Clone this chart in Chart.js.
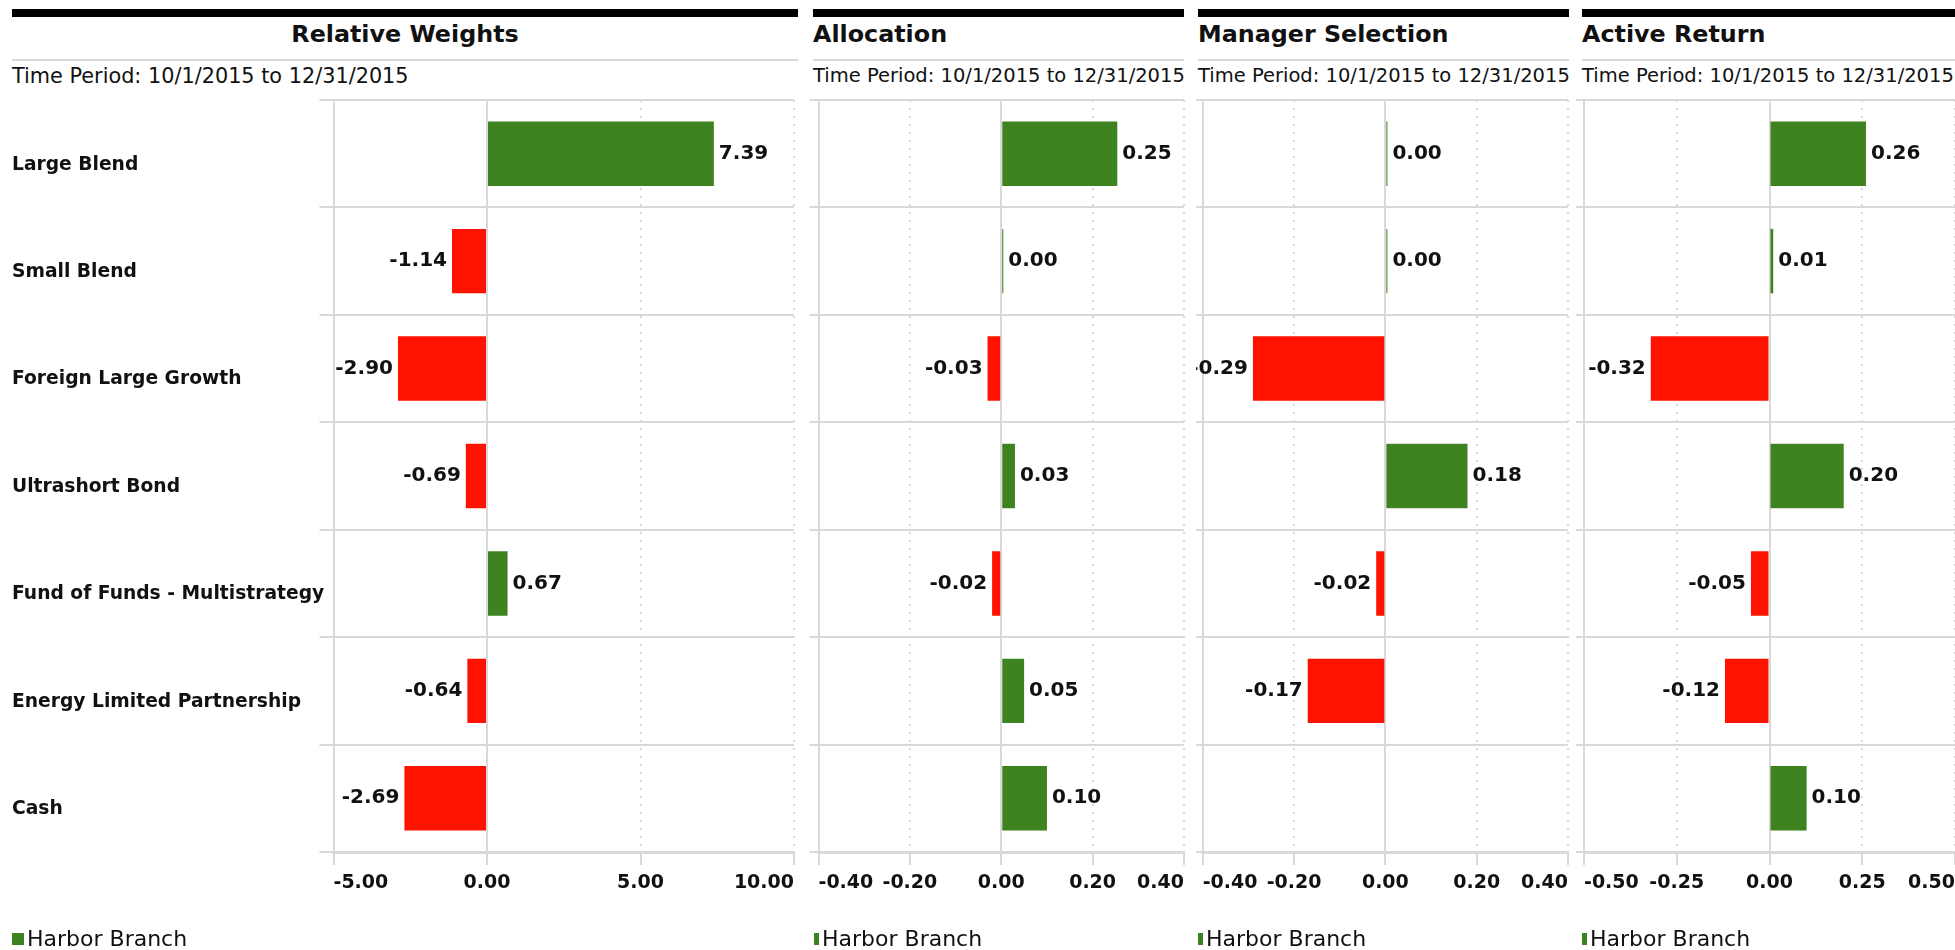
<!DOCTYPE html>
<html>
<head>
<meta charset="utf-8">
<title>Attribution - Harbor Branch</title>
<script src="https://cdn.jsdelivr.net/npm/chart.js@4.4.0/dist/chart.umd.min.js"></script>
<style>
    html, body { margin: 0; padding: 0; background: #fff; overflow: hidden; }
    body { width: 1955px; height: 950px; position: relative; font-family: "DejaVu Sans", Verdana, sans-serif; color: #111; }
    .barra { position: absolute; top: 9px; height: 8px; background: #000; }
    .titulo { position: absolute; top: 20px; height: 28px; line-height: 28px; font-size: 23.8px; font-weight: bold; white-space: nowrap; }
    .linha { position: absolute; top: 59px; height: 2px; background: #d9d9d9; }
    .periodo { position: absolute; top: 64px; line-height: 24px; font-size: 19.5px; white-space: nowrap; }
    canvas { position: absolute; top: 80px; }
</style>
</head>
<body>
<script>
const FONTE = '"DejaVu Sans", Verdana, sans-serif';
const VERDE = '#3f8220';
const VERMELHO = '#ff1300';

const serieNome = 'Harbor Branch';
const periodo = 'Time Period: 10/1/2015 to 12/31/2015';

const categorias = [
    'Large Blend',
    'Small Blend',
    'Foreign Large Growth',
    'Ultrashort Bond',
    'Fund of Funds - Multistrategy',
    'Energy Limited Partnership',
    'Cash'
];

// valores por painel (0.00 com barra fina = valor muito pequeno)
const pesosRelativos = [7.39, -1.14, -2.90, -0.69, 0.67, -0.64, -2.69];
const alocacao = [0.254, 0.0045, -0.03, 0.03, -0.02, 0.05, 0.10];
const selecaoGestor = [0.0045, 0.0045, -0.29, 0.18, -0.02, -0.17, null];
const retornoAtivo = [0.26, 0.01, -0.32, 0.20, -0.05, -0.12, 0.10];

// marcas do eixo X de cada painel
const ticksPesos = [-5, 0, 5, 10];
const ticksAlocacao = [-0.4, -0.2, 0, 0.2, 0.4];
const ticksSelecao = [-0.4, -0.2, 0, 0.2, 0.4];
const ticksRetorno = [-0.5, -0.25, 0, 0.25, 0.5];

// geometria de cada painel na página
const paineis = [
    { titulo: 'Relative Weights', valores: pesosRelativos, ticks: ticksPesos,
      barra: [12, 798], centralizado: true, fontePeriodo: 20.8,
      canvasX: 0, canvasW: 799, padEsq: 12, larguraY: 321.5, tickY: 14, rotulos: true, caixa: 12 },
    { titulo: 'Allocation', valores: alocacao, ticks: ticksAlocacao,
      barra: [813, 1184], centralizado: false, fontePeriodo: 19.5,
      canvasX: 804, canvasW: 385, padEsq: 10, larguraY: 4.5, tickY: 9, rotulos: false, caixa: 5 },
    { titulo: 'Manager Selection', valores: selecaoGestor, ticks: ticksSelecao,
      barra: [1198, 1569], centralizado: false, fontePeriodo: 19.5,
      canvasX: 1196, canvasW: 377, padEsq: 2, larguraY: 4.7, tickY: 9, rotulos: false, caixa: 5 },
    { titulo: 'Active Return', valores: retornoAtivo, ticks: ticksRetorno,
      barra: [1582, 1955], centralizado: false, fontePeriodo: 19.5,
      canvasX: 1576, canvasW: 384, padEsq: 6, larguraY: 2, tickY: 9, rotulos: false, caixa: 5 }
];

const ALTURA_CANVAS = 870;
const ALTURA_EIXO_X = 98;
const Y_LEGENDA = 860;

// escreve o valor na ponta de cada barra
const rotulosValores = {
    id: 'rotulosValores',
    afterDatasetsDraw(chart) {
        const ctx = chart.ctx;
        const valores = chart.data.datasets[0].data;
        ctx.save();
        ctx.font = `bold 20px ${FONTE}`;
        ctx.fillStyle = '#111';
        ctx.textBaseline = 'middle';
        chart.getDatasetMeta(0).data.forEach((barra, i) => {
            const v = valores[i];
            if (v === null || v === undefined) return;
            const negativo = v < 0;
            ctx.textAlign = negativo ? 'right' : 'left';
            ctx.fillText(v.toFixed(2), barra.x + (negativo ? -5 : 5), barra.y);
        });
        ctx.restore();
    }
};

// legenda simples: caixinha colada no nome da série
const legendaSerie = {
    id: 'legendaSerie',
    afterDraw(chart, args, opts) {
        const ctx = chart.ctx;
        const ds = chart.data.datasets[0];
        ctx.save();
        ctx.fillStyle = VERDE;
        ctx.fillRect(opts.x, Y_LEGENDA - 7, opts.largura, 12);
        ctx.font = `22px ${FONTE}`;
        ctx.fillStyle = '#111';
        ctx.textAlign = 'left';
        ctx.textBaseline = 'middle';
        ctx.fillText(ds.label, opts.x + opts.largura + 3, Y_LEGENDA);
        ctx.restore();
    }
};

function montarCabecalho(p) {
    const [x0, x1] = p.barra;

    const barra = document.createElement('div');
    barra.className = 'barra';
    barra.style.left = x0 + 'px';
    barra.style.width = (x1 - x0) + 'px';
    document.body.appendChild(barra);

    const titulo = document.createElement('div');
    titulo.className = 'titulo';
    titulo.textContent = p.titulo;
    titulo.style.left = x0 + 'px';
    if (p.centralizado) {
        titulo.style.width = (x1 - x0) + 'px';
        titulo.style.textAlign = 'center';
    }
    document.body.appendChild(titulo);

    const linha = document.createElement('div');
    linha.className = 'linha';
    linha.style.left = x0 + 'px';
    linha.style.width = (x1 - x0) + 'px';
    document.body.appendChild(linha);

    const texto = document.createElement('div');
    texto.className = 'periodo';
    texto.textContent = periodo;
    texto.style.left = x0 + 'px';
    texto.style.fontSize = p.fontePeriodo + 'px';
    document.body.appendChild(texto);
}

function criarGrafico(p) {
    const canvas = document.createElement('canvas');
    canvas.width = p.canvasW;
    canvas.height = ALTURA_CANVAS;
    canvas.style.left = p.canvasX + 'px';
    document.body.appendChild(canvas);

    new Chart(canvas.getContext('2d'), {
        type: 'bar',
        data: {
            labels: categorias,
            datasets: [{
                label: serieNome,
                data: p.valores,
                backgroundColor: ctx => (ctx.raw < 0 ? VERMELHO : VERDE),
                borderWidth: 0,
                barPercentage: 0.6,
                categoryPercentage: 1
            }]
        },
        options: {
            indexAxis: 'y',
            responsive: false,
            animation: false,
            devicePixelRatio: 1,
            layout: { padding: { left: p.padEsq, top: 20, right: 0, bottom: 0 } },
            scales: {
                x: {
                    min: p.ticks[0],
                    max: p.ticks[p.ticks.length - 1],
                    afterBuildTicks: escala => {
                        escala.ticks = p.ticks.map(v => ({ value: v }));
                    },
                    afterFit: escala => { escala.height = ALTURA_EIXO_X; },
                    grid: {
                        color: '#d9d9d9',
                        lineWidth: 2,
                        tickLength: 13
                    },
                    border: {
                        display: true,
                        color: '#d9d9d9',
                        width: 3,
                        // só a linha do zero é contínua
                        dash: ctx => (ctx.tick && ctx.tick.value !== 0 ? [2, 6] : [])
                    },
                    ticks: {
                        align: 'inner',
                        padding: 5,
                        color: '#111',
                        font: { family: FONTE, size: 19, weight: 'bold', lineHeight: 1.4 },
                        callback: v => Number(v).toFixed(2)
                    }
                },
                y: {
                    afterFit: escala => { escala.width = p.larguraY; },
                    grid: {
                        color: '#d9d9d9',
                        lineWidth: 2,
                        tickLength: p.tickY
                    },
                    border: { color: '#d9d9d9', width: 2 },
                    ticks: {
                        display: p.rotulos,
                        crossAlign: 'far',
                        labelOffset: 11,
                        color: '#111',
                        font: { family: FONTE, size: 18.7, weight: 'bold' }
                    }
                }
            },
            plugins: {
                legend: { display: false },
                tooltip: { enabled: false },
                legendaSerie: { x: p.padEsq, largura: p.caixa }
            }
        },
        plugins: [rotulosValores, legendaSerie]
    });
}

document.addEventListener('DOMContentLoaded', () => {
    paineis.forEach(p => {
        montarCabecalho(p);
        criarGrafico(p);
    });
});
</script>
</body>
</html>
